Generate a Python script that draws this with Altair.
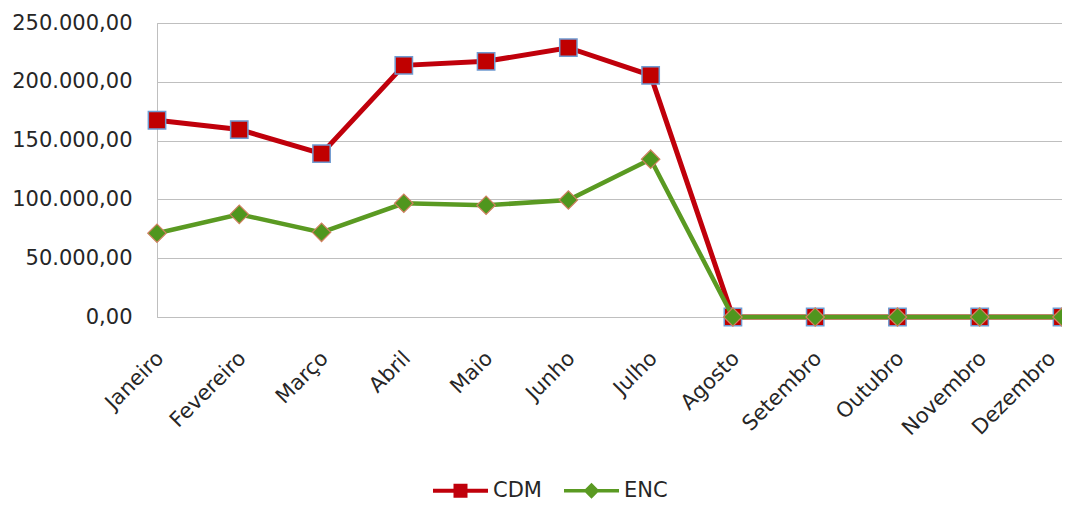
import altair as alt
import pandas as pd

months = ["Janeiro", "Fevereiro", "Março", "Abril", "Maio", "Junho", "Julho",
          "Agosto", "Setembro", "Outubro", "Novembro", "Dezembro"]
cdm = [167300, 159400, 138900, 214000, 217400, 229000, 205500, 0, 0, 0, 0, 0]
enc = [71200, 87300, 72000, 96700, 95000, 99500, 134200, 0, 0, 0, 0, 0]
series = ["CDM", "ENC"]
colors = ["#C0000B", "#5A9A22"]
y_ticks = [0, 50000, 100000, 150000, 200000, 250000]

rows = []
for s, vals in zip(series, [cdm, enc]):
    for m, v in zip(months, vals):
        rows.append({"Mes": m, "Valor": v, "Serie": s})
df = pd.DataFrame(rows)

FONT = "DejaVu Sans"
FS = 21

x_enc = alt.X("Mes:N", sort=months, title=None,
              scale=alt.Scale(type="point", padding=0),
              axis=alt.Axis(labelAngle=-45, labelAlign="right", labelBaseline="middle",
                            labelPadding=38,
                            labelOffset={"condition": {"test": "datum.value === 'Dezembro'",
                                                       "value": -10},
                                         "value": 3},
                            ticks=False, domain=False,
                            grid=False, labelFontSize=FS, labelFont=FONT,
                            labelColor="#262626"))
y_enc = alt.Y("Valor:Q", title=None,
              scale=alt.Scale(domain=[0, 250000], nice=False),
              axis=alt.Axis(values=y_ticks, format=",.2f", ticks=False,
                            domain=True, domainColor="#BFBFBF", gridColor="#BFBFBF",
                            gridWidth=1, labelPadding=25, labelFontSize=FS,
                            labelFont=FONT, labelColor="#262626"))

base = alt.Chart(df)

def line_layer(name, color, width):
    return base.transform_filter(alt.datum.Serie == name).mark_line(
        color=color, strokeWidth=width).encode(x=x_enc, y=y_enc)

cdm_line = line_layer("CDM", colors[0], 5)
enc_line = line_layer("ENC", colors[1], 4.5)

cdm_pts = base.transform_filter(alt.datum.Serie == "CDM").mark_point(
    shape="square", filled=True, size=300, fill="#C00000", stroke="#6F9BD1",
    strokeWidth=1.5, opacity=1).encode(x=x_enc, y=y_enc)
enc_pts = base.transform_filter(alt.datum.Serie == "ENC").mark_point(
    shape="diamond", filled=True, size=340, fill="#4F961E", stroke="#D08060",
    strokeWidth=1.2, opacity=1).encode(x=x_enc, y=y_enc)

# legend symbols: line + marker, drawn in units of sqrt(size)/2 = 10px
cdm_sym = "M-2.75,-0.2H-0.7V-0.7H0.7V-0.2H2.75V0.2H0.7V0.7H-0.7V0.2H-2.75Z"
enc_sym = "M-2.75,-0.18H-0.62L0,-0.8L0.62,-0.18H2.75V0.18H0.62L0,0.8L-0.62,0.18H-2.75Z"

leg = alt.Legend(title=None, orient="none", direction="horizontal",
                 legendX=293, legendY=457, symbolSize=400,
                 symbolStrokeWidth=0, labelFontSize=FS,
                 labelFont=FONT, labelColor="#262626",
                 labelOffset=22, columnPadding=22)

legend_layer = base.transform_filter("false").mark_point(filled=True, opacity=1).encode(
    x=x_enc, y=y_enc,
    color=alt.Color("Serie:N", scale=alt.Scale(domain=series, range=colors), legend=leg),
    shape=alt.Shape("Serie:N", scale=alt.Scale(domain=series, range=[cdm_sym, enc_sym]),
                    legend=leg),
)

chart = alt.layer(cdm_line, cdm_pts, enc_line, enc_pts, legend_layer).properties(
    width=905, height=294,
    padding={"left": 149, "top": 15, "right": 0, "bottom": 185},
    autosize=alt.AutoSizeParams(type="none"),
    background="white",
).configure(
    locale={"number": {"decimal": ",", "thousands": ".", "grouping": [3],
                       "currency": ["R$", ""]}}
).configure_view(stroke="#BFBFBF", strokeWidth=1)

chart.save("out.html", embed_options={"renderer": "svg", "actions": False})
